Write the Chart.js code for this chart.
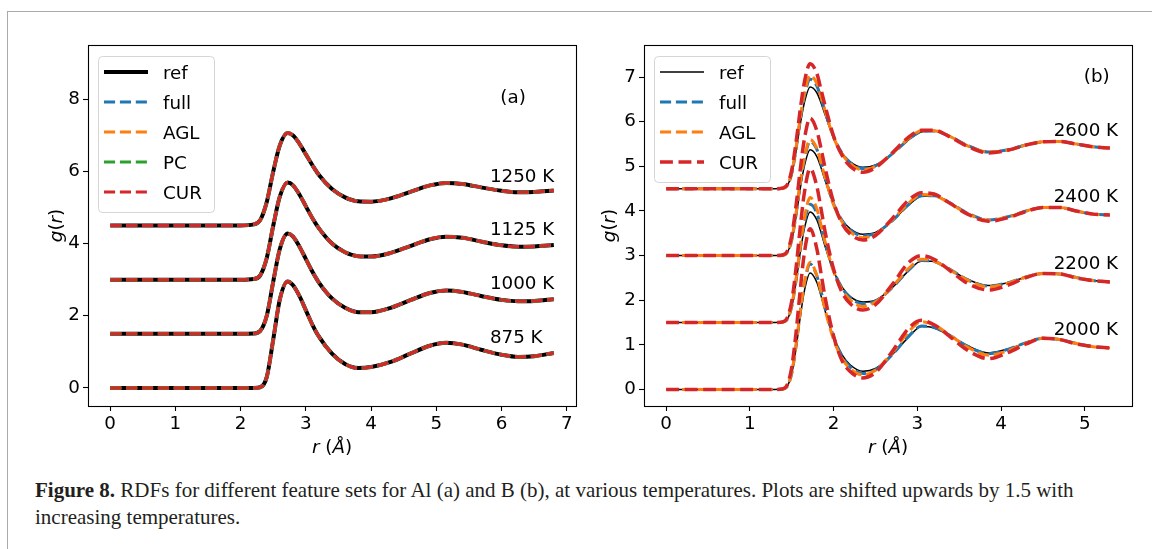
<!DOCTYPE html>
<html><head><meta charset="utf-8">
<script src="https://cdn.jsdelivr.net/npm/chart.js@4.4.0/dist/chart.umd.min.js"></script>
<style>
html,body{margin:0;padding:0;background:#fff;}
body{width:1152px;height:549px;position:relative;overflow:hidden;}
#frameTop{position:absolute;left:7px;top:11px;width:1145px;height:0;border-top:1.5px solid #aaaaaa;}
#frameLeft{position:absolute;left:7px;top:11px;width:0;height:538px;border-left:1.5px solid #aaaaaa;}
canvas{position:absolute;top:0;}
#cA{left:0px;}
#cB{left:590px;}
#caption{position:absolute;left:35px;top:477px;font-family:'Liberation Serif','DejaVu Serif',serif;font-size:21px;line-height:27px;color:#231f20;white-space:nowrap;}
</style></head>
<body>
<div id="frameTop"></div><div id="frameLeft"></div>
<canvas id="cA" width="590" height="470"></canvas>
<canvas id="cB" width="562" height="470"></canvas>
<div id="caption"><b>Figure 8.</b> RDFs for different feature sets for Al (a) and B (b), at various temperatures. Plots are shifted upwards by 1.5 with<br>increasing temperatures.</div>
<script>
// ---------------- Panel (a): Al ----------------
const rA = [0, 1.0, 2.0, 2.2, 2.3, 2.4, 2.5, 2.6, 2.72, 2.8, 2.9, 3.0, 3.1, 3.2, 3.4, 3.6, 3.8, 4.0, 4.3, 4.6, 4.9, 5.15, 5.4, 5.7, 6.0, 6.25, 6.5, 6.8];
const tempsA = ['875 K', '1000 K', '1125 K', '1250 K'];
const shiftA = [0, 1.5, 3.0, 4.5];
const gA_875  = [0,0,0,0,0.02,0.3,1.35,2.45,2.95,2.85,2.55,2.15,1.75,1.42,0.95,0.66,0.55,0.58,0.72,0.95,1.17,1.25,1.2,1.05,0.92,0.86,0.88,0.97];
const gA_1000 = [0,0,0,0.01,0.08,0.5,1.45,2.35,2.78,2.7,2.42,2.07,1.72,1.42,0.98,0.72,0.6,0.6,0.72,0.93,1.13,1.2,1.16,1.04,0.94,0.9,0.91,0.96];
const gA_1125 = [0,0,0,0.02,0.12,0.6,1.5,2.3,2.69,2.62,2.36,2.03,1.7,1.42,1.0,0.76,0.65,0.64,0.74,0.93,1.12,1.19,1.16,1.05,0.95,0.91,0.92,0.96];
const gA_1250 = [0,0,0,0.03,0.15,0.65,1.5,2.22,2.56,2.5,2.27,1.97,1.67,1.4,1.01,0.78,0.67,0.66,0.75,0.93,1.11,1.18,1.15,1.05,0.96,0.92,0.93,0.97];
// All feature-set models coincide with the reference in panel (a)
const refA  = [gA_875, gA_1000, gA_1125, gA_1250];
const fullA = [gA_875, gA_1000, gA_1125, gA_1250];
const aglA  = [gA_875, gA_1000, gA_1125, gA_1250];
const pcA   = [gA_875, gA_1000, gA_1125, gA_1250];
const curA  = [gA_875, gA_1000, gA_1125, gA_1250];
const modelsA = ['ref', 'full', 'AGL', 'PC', 'CUR'];
const seriesA = [refA, fullA, aglA, pcA, curA];
const xTicksA = [0, 1, 2, 3, 4, 5, 6, 7];
const yTicksA = [0, 2, 4, 6, 8];
const labelXA = [5.82, 5.82, 5.82, 5.82];
const labelYA = [1.25, 2.74, 4.24, 5.71];

// ---------------- Panel (b): B ----------------
const rB = [0, 1.0, 1.3, 1.4, 1.45, 1.5, 1.55, 1.6, 1.65, 1.72, 1.8, 1.85, 1.9, 2.0, 2.1, 2.2, 2.35, 2.5, 2.7, 2.9, 3.05, 3.2, 3.4, 3.6, 3.85, 4.1, 4.3, 4.5, 4.7, 4.9, 5.1, 5.3];
const tempsB = ['2000 K', '2200 K', '2400 K', '2600 K'];
const shiftB = [0, 1.5, 3.0, 4.5];
const ref2000  = [0,0,0,0.01,0.08,0.35,0.9,1.6,2.2,2.61,2.4,2.1,1.75,1.17,0.78,0.55,0.41,0.47,0.78,1.18,1.41,1.38,1.2,0.98,0.82,0.92,1.05,1.15,1.12,1.03,0.96,0.93];
const full2000 = [0,0,0,0.01,0.08,0.36,0.95,1.7,2.35,2.81,2.55,2.2,1.82,1.18,0.75,0.5,0.36,0.44,0.78,1.2,1.42,1.39,1.2,0.97,0.8,0.91,1.05,1.15,1.12,1.03,0.96,0.93];
const agl2000  = [0,0,0,0.01,0.09,0.38,0.98,1.72,2.38,2.85,2.55,2.18,1.78,1.12,0.7,0.46,0.33,0.43,0.82,1.3,1.52,1.45,1.2,0.95,0.77,0.88,1.04,1.15,1.12,1.03,0.96,0.93];
const cur2000  = [0,0,0,0.02,0.12,0.5,1.25,2.2,3.05,3.6,3.15,2.6,2.05,1.2,0.65,0.4,0.26,0.38,0.85,1.38,1.55,1.45,1.17,0.88,0.69,0.84,1.02,1.15,1.12,1.02,0.96,0.93];
const ref2200  = [0,0,0,0.01,0.08,0.35,0.88,1.55,2.1,2.48,2.3,2.02,1.7,1.15,0.8,0.58,0.46,0.5,0.78,1.17,1.38,1.37,1.18,0.97,0.83,0.9,1.02,1.1,1.09,1.01,0.94,0.91];
const full2200 = [0,0,0,0.01,0.08,0.36,0.92,1.62,2.22,2.65,2.45,2.12,1.77,1.17,0.78,0.55,0.42,0.48,0.78,1.18,1.39,1.37,1.18,0.96,0.82,0.9,1.02,1.1,1.09,1.01,0.94,0.91];
const agl2200  = [0,0,0,0.01,0.09,0.38,0.96,1.68,2.32,2.8,2.55,2.18,1.8,1.15,0.74,0.5,0.36,0.46,0.8,1.22,1.42,1.38,1.17,0.95,0.8,0.89,1.02,1.1,1.09,1.01,0.94,0.91];
const cur2200  = [0,0,0,0.02,0.12,0.48,1.2,2.1,2.9,3.45,3.05,2.55,2.02,1.2,0.68,0.42,0.28,0.4,0.85,1.35,1.5,1.42,1.15,0.88,0.73,0.85,1.01,1.1,1.09,1.0,0.94,0.91];
const ref2400  = [0,0,0,0.01,0.08,0.33,0.85,1.48,2.0,2.37,2.22,1.97,1.68,1.15,0.8,0.6,0.48,0.52,0.78,1.14,1.33,1.34,1.17,0.95,0.8,0.88,1.0,1.08,1.08,1.0,0.93,0.91];
const full2400 = [0,0,0,0.01,0.08,0.35,0.9,1.58,2.14,2.56,2.38,2.08,1.75,1.16,0.79,0.57,0.44,0.5,0.78,1.15,1.34,1.34,1.17,0.95,0.8,0.88,1.0,1.08,1.08,1.0,0.93,0.91];
const agl2400  = [0,0,0,0.01,0.09,0.37,0.93,1.62,2.18,2.6,2.4,2.08,1.74,1.14,0.76,0.53,0.4,0.48,0.8,1.18,1.37,1.35,1.16,0.94,0.79,0.87,1.0,1.08,1.08,1.0,0.93,0.91];
const cur2400  = [0,0,0,0.02,0.11,0.45,1.1,1.9,2.6,3.08,2.8,2.4,1.95,1.2,0.72,0.48,0.35,0.45,0.83,1.25,1.41,1.38,1.16,0.93,0.77,0.86,0.99,1.08,1.08,1.0,0.93,0.91];
const ref2600  = [0,0,0,0.01,0.08,0.32,0.82,1.42,1.92,2.28,2.15,1.92,1.65,1.14,0.8,0.6,0.48,0.53,0.78,1.1,1.27,1.29,1.16,0.97,0.83,0.88,0.98,1.05,1.06,1.0,0.94,0.91];
const full2600 = [0,0,0,0.01,0.08,0.34,0.87,1.52,2.06,2.45,2.3,2.03,1.72,1.16,0.8,0.58,0.45,0.51,0.78,1.11,1.28,1.29,1.16,0.97,0.82,0.88,0.98,1.05,1.06,1.0,0.94,0.91];
const agl2600  = [0,0,0,0.01,0.09,0.36,0.9,1.57,2.12,2.54,2.36,2.06,1.73,1.15,0.78,0.56,0.42,0.5,0.79,1.13,1.3,1.3,1.16,0.96,0.82,0.87,0.98,1.05,1.06,1.0,0.94,0.91];
const cur2600  = [0,0,0,0.02,0.1,0.42,1.02,1.75,2.38,2.8,2.58,2.22,1.85,1.18,0.75,0.5,0.37,0.47,0.8,1.16,1.31,1.31,1.15,0.95,0.8,0.87,0.98,1.05,1.06,1.0,0.94,0.91];
const refB  = [ref2000, ref2200, ref2400, ref2600];
const fullB = [full2000, full2200, full2400, full2600];
const aglB  = [agl2000, agl2200, agl2400, agl2600];
const curB  = [cur2000, cur2200, cur2400, cur2600];
const modelsB = ['ref', 'full', 'AGL', 'CUR'];
const seriesB = [refB, fullB, aglB, curB];
const xTicksB = [0, 1, 2, 3, 4, 5];
const yTicksB = [0, 1, 2, 3, 4, 5, 6, 7];
const labelXB = [4.63, 4.63, 4.63, 4.63];
const labelYB = [1.22, 2.70, 4.20, 5.68];

// ---------------- styles ----------------
const COLORS = {ref:'#000000', full:'#1f77b4', AGL:'#ff7f0e', PC:'#2ca02c', CUR:'#d62728'};
const styleA = {
  ref:{w:4, dash:[]}, full:{w:3, dash:[11.1,4.8]}, AGL:{w:3, dash:[11.1,4.8]},
  PC:{w:3, dash:[11.1,4.8]}, CUR:{w:3, dash:[11.1,4.8]}
};
const styleB = {
  ref:{w:1.5, dash:[]}, full:{w:3, dash:[11.1,4.8]}, AGL:{w:3, dash:[11.1,4.8]},
  CUR:{w:3.5, dash:[12.9,5.6]}
};
const FS = 18.3;
const FONT = FS + 'px "DejaVu Sans"';
const IFONT = 'italic ' + FS + 'px "DejaVu Sans"';

function buildDatasets(r, models, series, shifts, style){
  const ds = [];
  shifts.forEach((sh, ti) => {
    models.forEach((m, mi) => {
      const g = series[mi][ti];
      ds.push({
        label: m,
        data: r.map((x, i) => ({x: x, y: g[i] + sh})),
        borderColor: COLORS[m], backgroundColor: COLORS[m],
        borderWidth: style[m].w, borderDash: style[m].dash,
        pointRadius: 0, fill: false, cubicInterpolationMode: 'monotone',
        borderCapStyle: 'butt', borderJoinStyle: 'round'
      });
    });
  });
  // Chart.js paints dataset 0 last (on top); the last plotted series must be on top
  return ds.reverse();
}

function drawMixed(ctx, parts, x, y, align){
  let total = 0;
  parts.forEach(p => { ctx.font = p[1] ? IFONT : FONT; total += ctx.measureText(p[0]).width; });
  let cx = align === 'center' ? x - total/2 : x;
  ctx.textAlign = 'left';
  parts.forEach(p => { ctx.font = p[1] ? IFONT : FONT; ctx.fillText(p[0], cx, y); cx += ctx.measureText(p[0]).width; });
}

function deco(cfg){
  return {
    id: 'deco',
    afterDraw(chart){
      const ctx = chart.ctx, a = chart.chartArea;
      const xs = chart.scales.x, ys = chart.scales.y;
      ctx.save();
      // spines
      ctx.strokeStyle = '#000'; ctx.lineWidth = 1.1; ctx.setLineDash([]);
      ctx.strokeRect(Math.round(a.left)+0.5, Math.round(a.top)+0.5, Math.round(a.right-a.left), Math.round(a.bottom-a.top));
      // temperature labels & panel tag
      ctx.fillStyle = '#000'; ctx.font = FONT; ctx.textBaseline = 'alphabetic'; ctx.textAlign = 'left';
      cfg.temps.forEach((t, i) => ctx.fillText(t, xs.getPixelForValue(cfg.lx[i]), ys.getPixelForValue(cfg.ly[i])));
      ctx.fillText(cfg.tag, xs.getPixelForValue(cfg.tagX), ys.getPixelForValue(cfg.tagY));
      // legend
      const lx = a.left + 10, ly = a.top + 11, lw = 116, lh = 6 + cfg.models.length*30;
      ctx.beginPath();
      ctx.roundRect(lx+0.5, ly+0.5, lw, lh, 4);
      ctx.fillStyle = 'rgba(255,255,255,0.8)'; ctx.fill();
      ctx.strokeStyle = '#d5d5d5'; ctx.lineWidth = 1; ctx.stroke();
      cfg.models.forEach((m, i) => {
        const yy = ly + 16 + i*30;
        const st = cfg.style[m];
        ctx.beginPath(); ctx.setLineDash(st.dash); ctx.lineWidth = st.w; ctx.strokeStyle = COLORS[m]; ctx.lineCap = 'butt';
        ctx.moveTo(lx + 6, yy); ctx.lineTo(lx + 50, yy); ctx.stroke();
        ctx.setLineDash([]);
        ctx.fillStyle = '#000'; ctx.font = FONT; ctx.textAlign = 'left'; ctx.textBaseline = 'alphabetic';
        ctx.fillText(m, lx + 65, yy + 7);
      });
      // axis titles
      ctx.fillStyle = '#000'; ctx.textBaseline = 'alphabetic';
      drawMixed(ctx, [['r', true], [' (', false], ['Å', true], [')', false]], (a.left + a.right)/2, a.bottom + 47, 'center');
      ctx.save();
      ctx.translate(cfg.yTitleX, (a.top + a.bottom)/2);
      ctx.rotate(-Math.PI/2);
      drawMixed(ctx, [['g', true], ['(', false], ['r', true], [')', false]], 0, 0, 'center');
      ctx.restore();
      ctx.restore();
    }
  };
}

function makeChart(id, o){
  return new Chart(document.getElementById(id), {
    type: 'line',
    data: {datasets: buildDatasets(o.r, o.models, o.series, o.shifts, o.style)},
    options: {
      responsive: false, animation: false, devicePixelRatio: 1, events: [],
      layout: {padding: {left: 0, top: 45, right: o.padRight, bottom: 14}},
      plugins: {legend: {display: false}, tooltip: {enabled: false}},
      scales: {
        x: {
          type: 'linear', min: o.xmin, max: o.xmax,
          afterBuildTicks: s => { s.ticks = o.xTicks.map(v => ({value: v})); },
          afterFit: s => { s.height = 50; },
          grid: {drawOnChartArea: false, drawTicks: true, tickLength: 5, color: '#000', tickColor: '#000', tickWidth: 1.1},
          border: {display: false},
          ticks: {color: '#000', font: {family: 'DejaVu Sans', size: FS}, padding: 2, maxRotation: 0, callback: v => String(v)}
        },
        y: {
          type: 'linear', min: o.ymin, max: o.ymax,
          afterBuildTicks: s => { s.ticks = o.yTicks.map(v => ({value: v})); },
          afterFit: s => { s.width = o.yAxisW; },
          grid: {drawOnChartArea: false, drawTicks: true, tickLength: 5, color: '#000', tickColor: '#000', tickWidth: 1.1},
          border: {display: false},
          ticks: {color: '#000', font: {family: 'DejaVu Sans', size: FS}, padding: 3, callback: v => String(v)}
        }
      }
    },
    plugins: [deco(o.deco)]
  });
}

makeChart('cA', {
  r: rA, models: modelsA, series: seriesA, shifts: shiftA, style: styleA,
  xmin: -0.34, xmax: 7.14, ymin: -0.5, ymax: 9.5, xTicks: xTicksA, yTicks: yTicksA,
  yAxisW: 88, padRight: 14,
  deco: {temps: tempsA, lx: labelXA, ly: labelYA, tag: '(a)', tagX: 5.98, tagY: 7.9,
         models: modelsA, style: styleA, yTitleX: 62}
});
makeChart('cB', {
  r: rB, models: modelsB, series: seriesB, shifts: shiftB, style: styleB,
  xmin: -0.265, xmax: 5.565, ymin: -0.37, ymax: 7.72, xTicks: xTicksB, yTicks: yTicksB,
  yAxisW: 54, padRight: 20,
  deco: {temps: tempsB, lx: labelXB, ly: labelYB, tag: '(b)', tagX: 4.99, tagY: 6.9,
         models: modelsB, style: styleB, yTitleX: 25}
});
</script>
</body></html>
